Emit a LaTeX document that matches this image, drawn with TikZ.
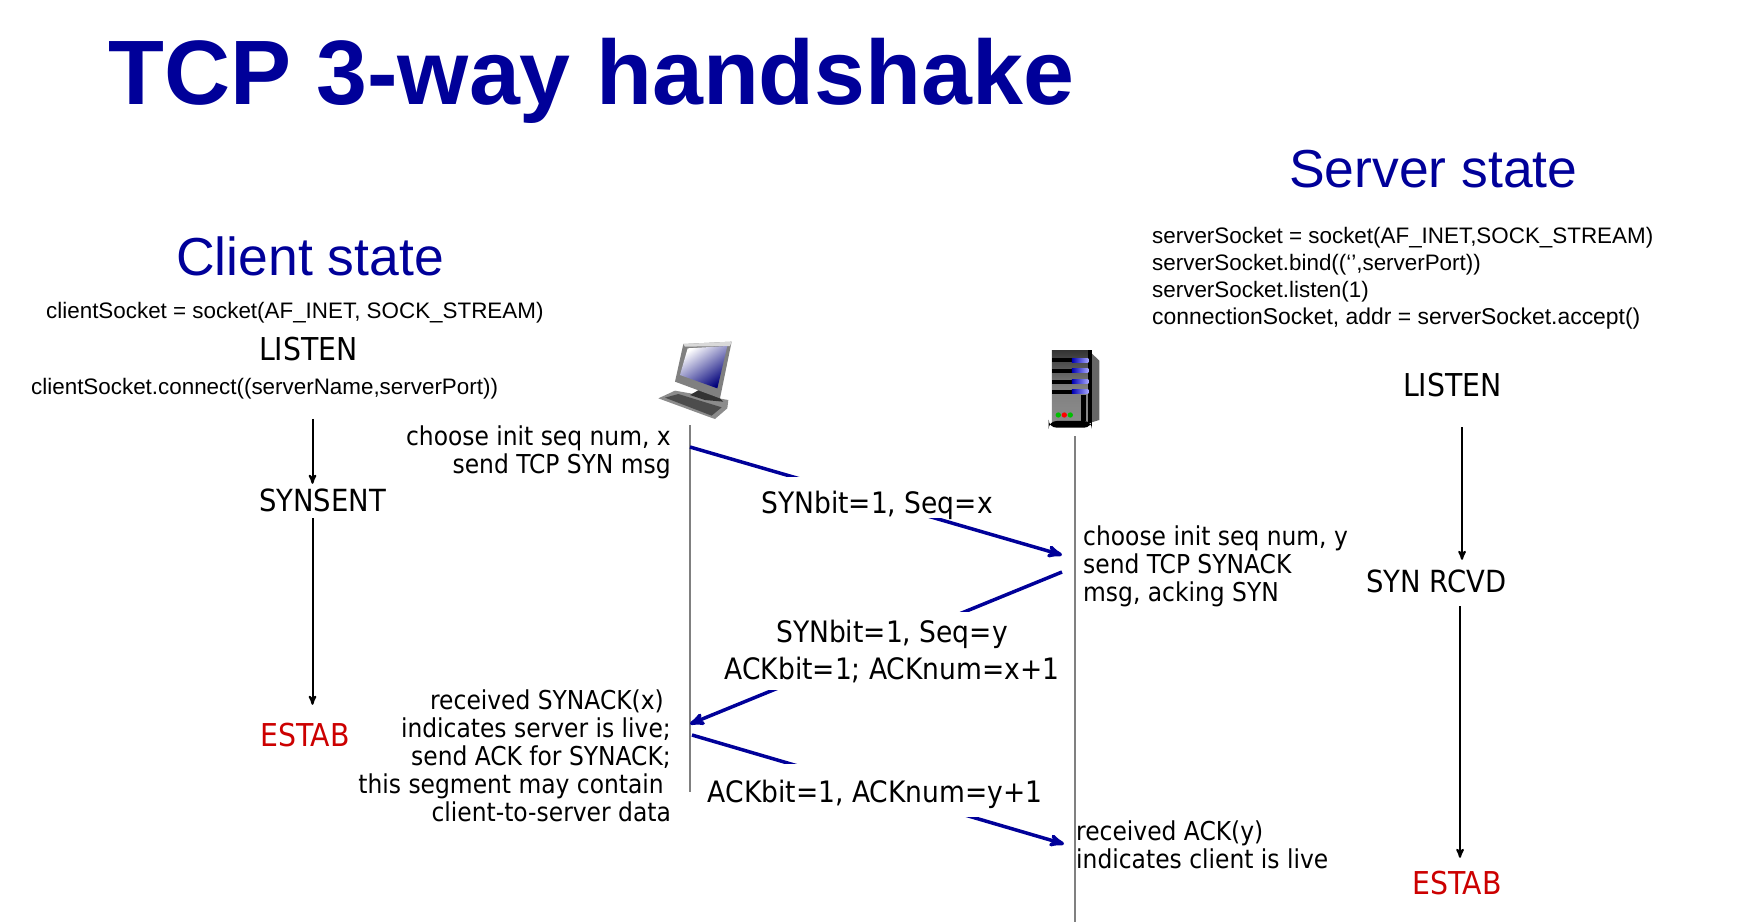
\documentclass[tikz,border=0pt]{standalone}
\usepackage{fontspec}
\setmainfont{Liberation Sans}
\newfontfamily\labelfont{DejaVu Sans Condensed}
\usetikzlibrary{
	arrows,
	positioning
}
\definecolor{slideblue}{HTML}{000099}
\definecolor{slidered}{HTML}{CC0000}
\definecolor{linegray}{HTML}{808080}
\tikzset{
	>=stealth',
	titletext/.style={anchor=base west, inner sep=0pt, text=slideblue, font=\fontsize{91.5}{92}\selectfont\bfseries},
	headtext/.style={anchor=base west, inner sep=0pt, text=slideblue, font=\fontsize{53.5}{56}\selectfont},
	codetext/.style={anchor=base west, inner sep=0pt, font=\fontsize{22.4}{27}\selectfont},
	statetext/.style={anchor=base west, inner sep=0pt, text height=22pt, text depth=0pt, font=\labelfont\fontsize{30.5}{30}\selectfont},
	widetext/.style={statetext, font=\labelfont\fontsize{31.5}{30}\selectfont},
	esttext/.style={widetext, text=slidered},
	notetext/.style={anchor=base, inner sep=0pt, font=\labelfont\fontsize{26}{28}\selectfont},
	seglabel/.style={inner sep=0pt, fill=white, font=\labelfont\fontsize{29.5}{37}\selectfont},
	msgline/.style={slideblue, line width=3.5pt},
	msgarrow/.style={msgline, ->},
	statearrow/.style={->, line width=2pt},
	lifeline/.style={linegray, line width=1.5pt}
}

\begin{document}
\begin{tikzpicture}[x=1pt, y=-1pt]
	\useasboundingbox (0,0) rectangle (1754,922);

	% headings
	\node[titletext] (title) at (108,104) {TCP 3-way handshake};
	\node[headtext] (clienthead) at (176,275) {Client state};
	\node[headtext] (serverhead) at (1289,187) {Server state};

	% socket calls
	\node[codetext] (clientsock) at (46,318) {clientSocket = socket(AF\_INET, SOCK\_STREAM)};
	\node[codetext] (clientconn) at (31,394) {clientSocket.connect((serverName,serverPort))};
	\node[codetext, anchor=west, align=left] (servercode) at (1152,278.5) {serverSocket = socket(AF\_INET,SOCK\_STREAM)\\
		serverSocket.bind((‘’,serverPort))\\
		serverSocket.listen(1)\\
		\fontsize{22.9}{27}\selectfont connectionSocket, addr = serverSocket.accept()};

	% states
	\node[widetext] (clistn) at (259,360) {LISTEN};
	\node[statetext] (synsent) at (259,511) {SYNSENT};
	\node[esttext] (cestab) at (260,746) {ESTAB};
	\node[widetext] (slistn) at (1403,396) {LISTEN};
	\node[statetext] (synrcvd) at (1366,592) {SYN RCVD};
	\node[esttext] (sestab) at (1412,894) {ESTAB};

	\coordinate (caxis) at (312.5,0);
	\coordinate (saxisup) at (1462,0);
	\coordinate (saxisdn) at (1460,0);
	\path[statearrow]
		(clientconn.south -| caxis) edge[shorten <=20pt, shorten >=5pt] (synsent.north -| caxis)
		(synsent.south -| caxis) edge[shorten <=7pt, shorten >=19pt] (cestab.north -| caxis)
		(slistn.south -| saxisup) edge[shorten <=31pt, shorten >=10pt] (synrcvd.north -| saxisup)
		(synrcvd.south -| saxisdn) edge[shorten <=14pt, shorten >=14pt] (sestab.north -| saxisdn)
	;

	% hosts
	\coordinate (clienttop) at (690,425);
	\coordinate (clientend) at (690,792);
	\coordinate (servertop) at (1075,436);
	\coordinate (serverend) at (1075,922);
	\draw[lifeline] (clienttop) -- (clientend);
	\draw[lifeline] (servertop) -- (serverend);

	\begin{scope}[shift={(640,320)}, x=0.3333pt, y=-0.3333pt]
		\fill[black!45] (55,235) -- (105,212) -- (265,240) -- (262,265) -- (225,297) -- (205,290) -- cycle;
		\fill[black!70] (75,233) -- (115,222) -- (245,262) -- (215,287) -- cycle;
		\fill[black!80] (150,225) -- (185,205) -- (235,230) -- (250,245) -- (195,240) -- cycle;
		\fill[black!50] (130,72) -- (275,65) -- (240,235) -- (105,185) -- cycle;
		\fill[black!15] (130,72) -- (275,65) -- (270,78) -- (135,80) -- cycle;
		\shade[left color=white, right color=slideblue!80!black, shading angle=35] (143,85) -- (262,78) -- (232,205) -- (120,165) -- cycle;

		\shade[top color=black!80, bottom color=black!45, middle color=black!50] (1236,90) rectangle (1345,310);
		\fill[black!60] (1345,90) -- (1378,122) -- (1378,300) -- (1345,310) -- cycle;
		\fill[black] (1345,90) rectangle (1356,310);
		\foreach \ya in {121,152,185,215}{
			\fill[black] (1236,\ya-6) rectangle (1345,\ya+6);
			\shade[left color=blue!70!black, right color=blue!35!white] (1296,\ya-6) rectangle (1345,\ya+6);
		}
		\fill[black] (1323,225) rectangle (1338,303);
		\fill[black, rounded corners=8] (1226,303) rectangle (1356,323);
		\fill[green!75!black] (1255,285) circle (8);
		\fill[red] (1273,285) circle (8);
		\fill[green!75!black] (1291,285) circle (8);
	\end{scope}

	% message lines, the labels hide their middle
	\coordinate (synfrom) at (690,447);
	\coordinate (synto) at (1062,555);
	\coordinate (ackfrom) at (1062,572);
	\coordinate (ackto) at (690,724);
	\coordinate (lastfrom) at (692,735);
	\coordinate (lastto) at (1064,844);
	\draw[msgarrow] (synfrom) -- (synto);
	\draw[msgarrow] (ackfrom) -- (ackto);
	\draw[msgarrow] (lastfrom) -- (lastto);
	\node[seglabel, anchor=base, text height=36pt, text depth=5pt] (synlabel) at (877,513) {SYNbit=1, Seq=x};
	\node[seglabel, align=center, minimum height=78pt] (acklabel) at (892,651) {SYNbit=1, Seq=y\\ACKbit=1; ACKnum=x+1};
	\node[seglabel, anchor=base, text height=38pt, text depth=15pt] (lastlabel) at (875,802) {ACKbit=1, ACKnum=y+1};

	% notes
	\node[notetext, anchor=base east, align=right] (cnote1) at (671,473) {choose init seq num, x\\send TCP SYN msg};
	\node[notetext, anchor=base west, align=left] (snote1) at (1083,601) {choose init seq num, y\\send TCP SYNACK\\msg, acking SYN};
	\node[notetext, anchor=base east, align=right] (cnote2) at (671,821) {received SYNACK(x)\hspace*{7pt}\\indicates server is live;\\send ACK for SYNACK;\\this segment may contain\hspace*{7pt}\mbox{}\\client-to-server data};
	\node[notetext, anchor=base west, align=left] (snote2) at (1076,868) {received ACK(y)\\indicates client is live};
\end{tikzpicture}
\end{document}
